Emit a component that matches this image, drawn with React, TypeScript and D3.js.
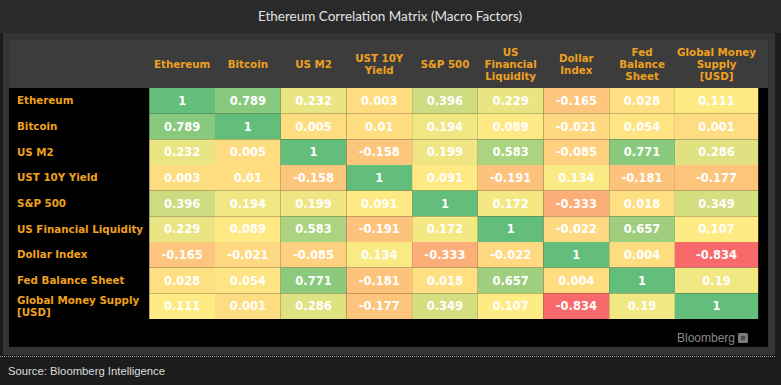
import { useEffect } from "react";
import * as d3 from "d3";

// factor names, column headers (wrapped) and row labels (wrapped)
const factors = [
  "Ethereum", "Bitcoin", "US M2", "UST 10Y Yield", "S&P 500",
  "US Financial Liquidity", "Dollar Index", "Fed Balance Sheet", "Global Money Supply [USD]",
];
const columnLabels = [
  ["Ethereum"], ["Bitcoin"], ["US M2"], ["UST 10Y", "Yield"], ["S&P 500"],
  ["US", "Financial", "Liquidity"], ["Dollar", "Index"], ["Fed", "Balance", "Sheet"],
  ["Global Money", "Supply", "[USD]"],
];
const rowLabels = [
  ["Ethereum"], ["Bitcoin"], ["US M2"], ["UST 10Y Yield"], ["S&P 500"],
  ["US Financial Liquidity"], ["Dollar Index"], ["Fed Balance Sheet"],
  ["Global Money Supply", "[USD]"],
];

// correlation rows
const ethereum = [1, 0.789, 0.232, 0.003, 0.396, 0.229, -0.165, 0.028, 0.111];
const bitcoin = [0.789, 1, 0.005, 0.01, 0.194, 0.089, -0.021, 0.054, 0.001];
const usM2 = [0.232, 0.005, 1, -0.158, 0.199, 0.583, -0.085, 0.771, 0.286];
const ust10y = [0.003, 0.01, -0.158, 1, 0.091, -0.191, 0.134, -0.181, -0.177];
const sp500 = [0.396, 0.194, 0.199, 0.091, 1, 0.172, -0.333, 0.018, 0.349];
const finLiquidity = [0.229, 0.089, 0.583, -0.191, 0.172, 1, -0.022, 0.657, 0.107];
const dollarIndex = [-0.165, -0.021, -0.085, 0.134, -0.333, -0.022, 1, 0.004, -0.834];
const fedBalance = [0.028, 0.054, 0.771, -0.181, 0.018, 0.657, 0.004, 1, 0.19];
const globalMoney = [0.111, 0.001, 0.286, -0.177, 0.349, 0.107, -0.834, 0.19, 1];

const matrix = [ethereum, bitcoin, usM2, ust10y, sp500, finLiquidity, dollarIndex, fedBalance, globalMoney];

const W = 781;
const H = 385;
const orange = "#eea11f";

// last column is a bit wider than the rest
const colWeights = [1, 1, 1, 1, 1, 1, 1, 1, 1.268];

const App = () => {
  useEffect(() => {
    document.body.style.margin = "0";
  }, []);

  const gridLeft = 149.3;
  const gridRight = 758.2;
  const gridTop = 88;
  const gridBottom = 319;

  const cum = [0, ...Array.from(d3.cumsum(colWeights))];
  const xScale = d3.scaleLinear().domain([0, d3.sum(colWeights)]).range([gridLeft, gridRight]);
  const yScale = d3.scaleBand<string>().domain(factors).range([gridTop, gridBottom]).padding(0);

  const all = matrix.flat();
  const color = d3
    .scaleLinear<string>()
    .domain([d3.min(all)!, d3.median(all)!, d3.max(all)!])
    .range(["#F8696B", "#FFEB84", "#63BE7B"])
    .interpolate(d3.interpolateRgb);

  const cells = matrix.flatMap((row, i) =>
    row.map((v, j) => ({ row: factors[i], col: j, v }))
  );

  const labelFont = "'DejaVu Sans', Verdana, sans-serif";

  return (
    <svg width={W} height={H} style={{ position: "absolute", left: 0, top: 0, display: "block" }}>
      <rect x={0} y={0} width={W} height={H} fill="#1c1c1c" />
      {/* title bar */}
      <rect x={0} y={0} width={W} height={33} fill="#2a2a2a" />
      <text x={390} y={21} textAnchor="middle" fill="#e2e2e2" fontFamily="Lato, sans-serif" fontSize={13.5}>
        Ethereum Correlation Matrix (Macro Factors)
      </text>

      {/* panel */}
      <rect x={3} y={33} width={772} height={322} fill="#353535" />
      <rect x={9} y={40} width={759} height={48} fill="#3c3c3c" />
      <rect x={9} y={88} width={759} height={259} fill="#000" />
      <line x1={0} x2={775} y1={356.5} y2={356.5} stroke="#9a9a9a" strokeDasharray="1,1" />

      {/* column headers */}
      {columnLabels.map((lines, j) => {
        const cx = xScale((cum[j] + cum[j + 1]) / 2);
        const y0 = 64 - ((lines.length - 1) * 12) / 2;
        return (
          <text key={j} textAnchor="middle" fill={orange} fontFamily={labelFont} fontWeight="bold" fontSize={10.3}>
            {lines.map((l, k) => (
              <tspan key={k} x={cx} y={y0 + k * 12} dy="0.35em">{l}</tspan>
            ))}
          </text>
        );
      })}

      {/* row labels */}
      {rowLabels.map((lines, i) => {
        const cy = yScale(factors[i])! + yScale.bandwidth() / 2;
        const y0 = cy - ((lines.length - 1) * 12) / 2;
        return (
          <text key={i} fill={orange} fontFamily={labelFont} fontWeight="bold" fontSize={10.3}>
            {lines.map((l, k) => (
              <tspan key={k} x={17} y={y0 + k * 12} dy="0.35em">{l}</tspan>
            ))}
          </text>
        );
      })}

      {/* cells */}
      {cells.map((c, idx) => {
        const x0 = xScale(cum[c.col]);
        const x1 = xScale(cum[c.col + 1]);
        const y = yScale(c.row)!;
        return (
          <g key={idx}>
            <rect x={x0} y={y} width={x1 - x0} height={yScale.bandwidth()} fill={color(c.v)} />
            <text
              x={(x0 + x1) / 2}
              y={y + yScale.bandwidth() / 2}
              dy="0.36em"
              textAnchor="middle"
              fill="#fff"
              fontFamily={labelFont}
              fontWeight="bold"
              fontSize={11.5}
            >
              {String(c.v)}
            </text>
          </g>
        );
      })}

      {/* branding */}
      <text x={735} y={342} textAnchor="end" fill="#8a8a8a" fontFamily="'Liberation Sans', Arial, sans-serif" fontSize={12}>
        Bloomberg
      </text>
      <rect x={738} y={333} width={10} height={10} rx={1.5} fill="#7a7a7a" />
      <rect x={741} y={336} width={4} height={4} fill="#4a4a4a" />

      {/* source */}
      <text x={8} y={375} fill="#dcdcdc" fontFamily="'Liberation Sans', Arial, sans-serif" fontSize={11.3}>
        Source: Bloomberg Intelligence
      </text>
    </svg>
  );
};

export default App;
